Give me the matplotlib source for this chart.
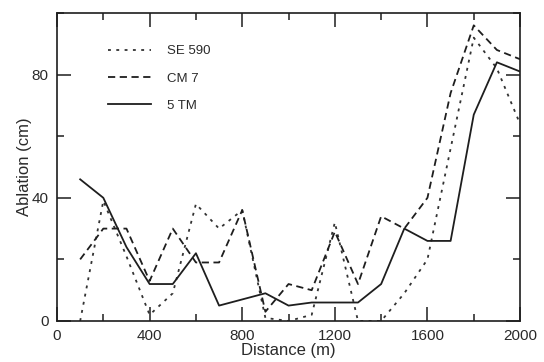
import matplotlib
matplotlib.use("Agg")
import matplotlib.pyplot as plt
from matplotlib.ticker import MultipleLocator

distance = [100, 200, 300, 400, 500, 600, 700, 800, 900, 1000,
            1100, 1200, 1300, 1400, 1500, 1600, 1700, 1800, 1900, 2000]
se590 = [0, 39, 21, 2, 9, 38, 30, 36, 1, 0, 2, 32, 0, 0, 9, 20, 56, 92, 82, 64]
cm7 = [20, 30, 30, 13, 30, 19, 19, 36, 3, 12, 10, 29, 12, 34, 30, 40, 74, 96, 88, 85]
tm5 = [46, 40, 24, 12, 12, 22, 5, 7, 9, 5, 6, 6, 6, 12, 30, 26, 26, 67, 84, 81]
labels = ["SE 590", "CM 7", "5 TM"]

plt.rcParams['font.family'] = ['Liberation Sans', 'DejaVu Sans']
ink = '#1e1e1e'
text_ink = '#2a2a2a'

fig = plt.figure(figsize=(5.44, 3.62), dpi=100)
ax = fig.add_axes([0.1048, 0.1133, 0.8512, 0.8507])

ax.plot(distance, se590, color='#333333', lw=1.3, linestyle=(0, (1.6, 3.0)), label=labels[0])
ax.plot(distance, cm7, color=ink, lw=1.3, linestyle=(0, (4.0, 2.5)), label=labels[1])
ax.plot(distance, tm5, color=ink, lw=1.3, linestyle='-', label=labels[2])

ax.set_xlim(0, 2000)
ax.set_ylim(0, 100)
ax.xaxis.set_major_locator(MultipleLocator(400))
ax.xaxis.set_minor_locator(MultipleLocator(200))
ax.yaxis.set_major_locator(MultipleLocator(40))
ax.yaxis.set_minor_locator(MultipleLocator(20))
ax.tick_params(which='both', direction='in', top=True, right=True, color=ink,
               labelsize=11, labelcolor=text_ink, width=1.1)
ax.tick_params(which='major', length=10, pad=6)
ax.tick_params(which='minor', length=5)
for s in ax.spines.values():
    s.set_linewidth(1.2)
    s.set_color(ink)

ax.set_xlabel("Distance (m)", fontsize=12, color=text_ink, labelpad=0)
ax.set_ylabel("Ablation (cm)", fontsize=12, color=text_ink, labelpad=0)

leg = ax.legend(loc='upper left', bbox_to_anchor=(0.084, 0.935), frameon=False,
                fontsize=9.5, handlelength=3.3, handletextpad=1.2,
                labelspacing=1.15)
for t in leg.get_texts():
    t.set_color(text_ink)

fig.savefig("out.png", dpi=100)
